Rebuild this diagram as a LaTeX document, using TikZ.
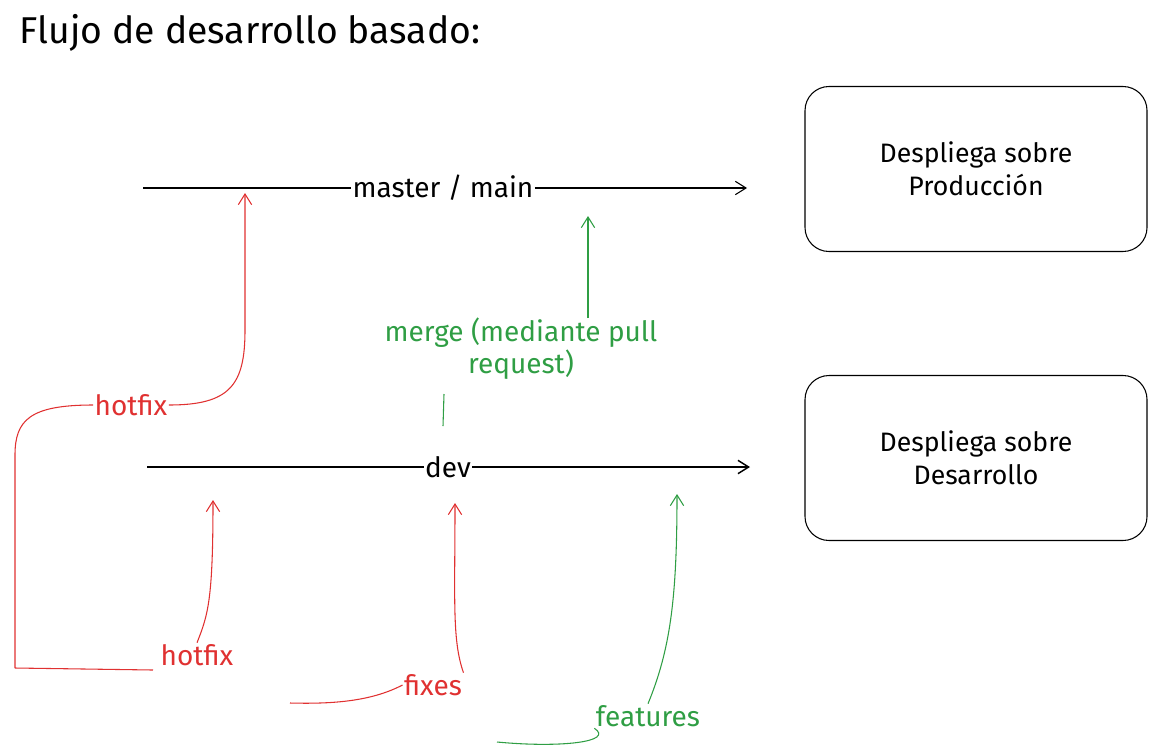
\documentclass[tikz,border=0pt]{standalone}
\usepackage{fontspec}
\setmainfont{Fira Sans}
\usetikzlibrary{arrows.meta}
\definecolor{rd}{HTML}{E03131}
\definecolor{gn}{HTML}{2F9E44}
\tikzset{
  lbl/.style={font=\fontsize{21}{24}\selectfont, inner sep=1pt, fill=white},
  box/.style={draw, rounded corners=18pt, line width=0.8pt, minimum width=342*0.75pt, minimum height=165*0.75pt, align=center, font=\fontsize{20}{25}\selectfont},
  ar/.style={-{Straight Barb[length=8pt,width=10pt]}, line width=0.8pt},
}
\begin{document}
\begin{tikzpicture}[x=0.75pt,y=-0.75pt]
\useasboundingbox (0,0) rectangle (1159,754);
\node[anchor=west, font=\fontsize{28}{32}\selectfont] (title) at (15,33) {Flujo de desarrollo basado:};
% boxes
\node[box] (prod) at (976,169) {Despliega sobre\\Producción};
\node[box] (des) at (976,458) {Despliega sobre\\Desarrollo};
% master
\coordinate (ms) at (143,188);
\coordinate (me) at (747,188);
\node[lbl] (master) at (443,188) {master / main};
\draw[ar] (ms) -- (master.west) (master.east) -- (me);
% dev
\coordinate (ds) at (147,467);
\coordinate (de) at (750,467);
\node[lbl] (dev) at (448,467) {dev};
\draw[ar, line width=1.1pt] (ds) -- (dev.west) (dev.east) -- (de);
% merge
\node[lbl, text=gn, align=center] (merge) at (521,349) {merge (mediante pull\\request)};
\coordinate (m1) at (443,426);
\coordinate (m2) at (444,394);
\coordinate (m3) at (588,318);
\coordinate (m4) at (588,216);
\draw[gn, line width=0.8pt] (m1) -- (m2);
\draw[gn, ar] (m3) -- (m4);
% hotfix top
\node[lbl, text=rd] (h1) at (131,405) {hotfix};
\coordinate (c0) at (15,668);
\coordinate (h1t) at (245,193);
\draw[rd, line width=0.8pt] (c0) -- (15,455) .. controls (15,420) and (30,405) .. (h1.west);
\draw[rd, ar] (h1.east) .. controls (230,405) and (245,385) .. (245,330) -- (h1t);
% hotfix bottom
\node[lbl, text=rd] (h2) at (197,655) {hotfix};
\coordinate (h2t) at (213,500);
\draw[rd, line width=0.8pt] (c0) -- (153,670);
\draw[rd, ar] (h2.north) .. controls (208,615) and (213,600) .. (h2t);
% fixes
\node[lbl, text=rd] (fx) at (433,685) {fixes};
\coordinate (f0) at (290,703);
\coordinate (fxt) at (455,503);
\draw[rd, line width=0.8pt] (f0) .. controls (330,704) and (370,702) .. (fx.west);
\draw[rd, ar] (fx.north east) .. controls (452,640) and (455,600) .. (fxt);
% features
\node[lbl, text=gn] (ft) at (648,716) {features};
\coordinate (g0) at (497,742);
\coordinate (ftt) at (677,494);
\draw[gn, line width=0.8pt] (g0) .. controls (560,748) and (615,742) .. (ft.south west);
\draw[gn, ar] (ft.north) .. controls (670,650) and (677,600) .. (ftt);
\end{tikzpicture}
\end{document}
